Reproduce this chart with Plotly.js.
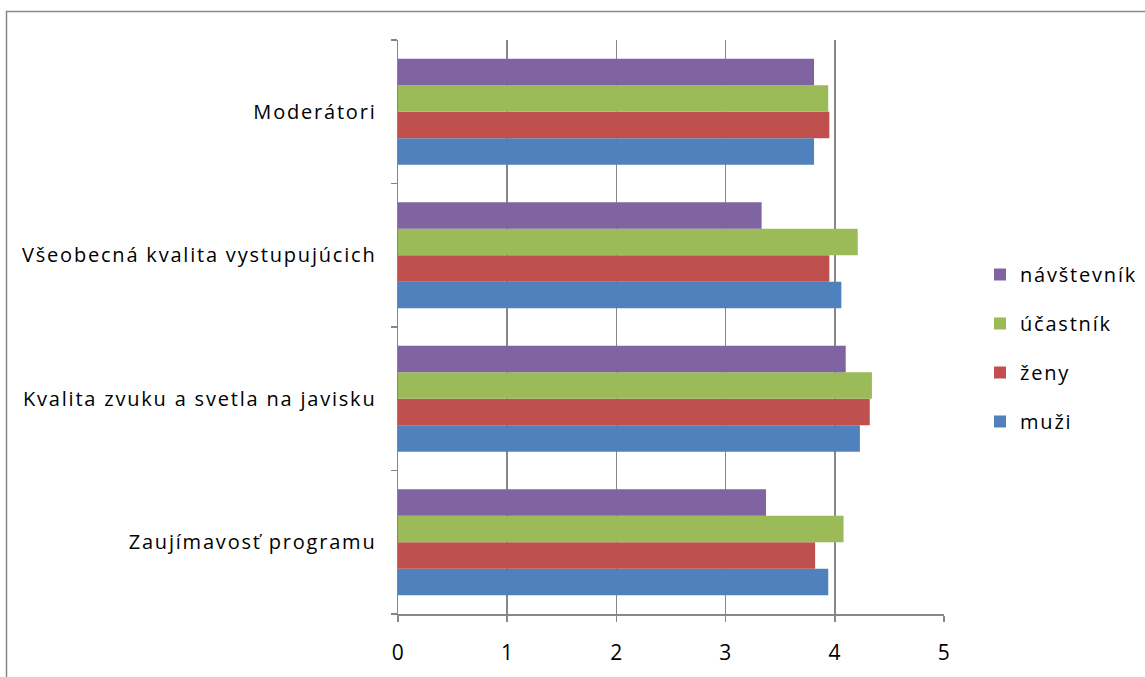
<!DOCTYPE html>
<html>
<head>
<meta charset="utf-8">
<script src="https://cdn.plot.ly/plotly-3.0.1.min.js"></script>
<style>
html,body{margin:0;padding:0;background:#fff;}
#chart{width:1145px;height:677px;}
#chart .ytick text, #chart .legendtext { letter-spacing: 1.8px; }
#chart .xtick text { letter-spacing: 0.5px; }
#chart .legend .scrollbox { clip-path: none !important; }
</style>
</head>
<body>
<div id="chart"></div>
<script>
const categories = ["Zaujímavosť programu", "Kvalita zvuku a svetla na javisku", "Všeobecná kvalita vystupujúcich", "Moderátori"];
const seriesNames = ["muži", "ženy", "účastník", "návštevník"];
const muzi = [3.94, 4.23, 4.06, 3.81];
const zeny = [3.82, 4.32, 3.95, 3.95];
const ucastnik = [4.08, 4.34, 4.21, 3.94];
const navstevnik = [3.37, 4.10, 3.33, 3.81];
const xTicks = [0, 1, 2, 3, 4, 5];
const colors = ["#4F81BD", "#C0504D", "#9BBB59", "#8064A2"];

const values = [muzi, zeny, ucastnik, navstevnik];
const traces = values.map((v, i) => ({
  type: "bar",
  orientation: "h",
  name: seriesNames[i],
  y: categories,
  x: v,
  marker: {color: colors[i], line: {width: 0}},
  legendgroup: "g" + i,
  legendrank: 10 - i,
  hoverinfo: "x+y+name"
}));

const W = 1145, H = 677;
const L = 398, R = 944, T = 40, B = 614;
const pw = R - L, ph = B - T;
const px = p => (p - L) / pw;
const py = p => 1 - (p - T) / ph;

const layout = {
  width: W, height: H,
  margin: {l: L, r: W - R, t: T, b: H - B, pad: 0},
  paper_bgcolor: "#fff",
  plot_bgcolor: "#fff",
  font: {family: "Open Sans, sans-serif", size: 20, color: "#000"},
  barmode: "group",
  bargap: 0.26,
  bargroupgap: 0,
  showlegend: true,
  legend: {
    x: px(980), xanchor: "left",
    y: py(348), yanchor: "middle",
    traceorder: "grouped",
    tracegroupgap: 20,
    font: {family: "Open Sans, sans-serif", size: 20, color: "#000"},
    itemwidth: 30,
    bgcolor: "rgba(0,0,0,0)"
  },
  xaxis: {
    range: [0, 5],
    tickvals: xTicks,
    ticktext: xTicks.map(String),
    showgrid: true,
    gridcolor: "#878787",
    gridwidth: 1.5,
    zeroline: false,
    showline: true,
    linecolor: "#878787",
    linewidth: 1.5,
    ticks: "outside",
    ticklen: 6,
    tickcolor: "#878787",
    tickwidth: 1.5,
    ticklabelstandoff: 13,
    tickfont: {size: 21},
    fixedrange: true
  },
  yaxis: {
    type: "category",
    categoryorder: "array",
    categoryarray: categories,
    showgrid: false,
    zeroline: false,
    showline: true,
    linecolor: "#878787",
    linewidth: 1.5,
    ticks: "outside",
    tickson: "boundaries",
    ticklen: 6,
    tickcolor: "#878787",
    tickwidth: 1.5,
    ticklabelstandoff: 16,
    tickfont: {size: 20},
    fixedrange: true
  },
  shapes: [{
    type: "rect", xref: "paper", yref: "paper",
    x0: px(6.5), x1: px(1160), y0: py(700), y1: py(11.5),
    line: {color: "#878787", width: 1.5},
    fillcolor: "rgba(0,0,0,0)",
    layer: "below"
  }]
};

Plotly.newPlot("chart", traces, layout, {displayModeBar: false, staticPlot: true});
</script>
</body>
</html>
